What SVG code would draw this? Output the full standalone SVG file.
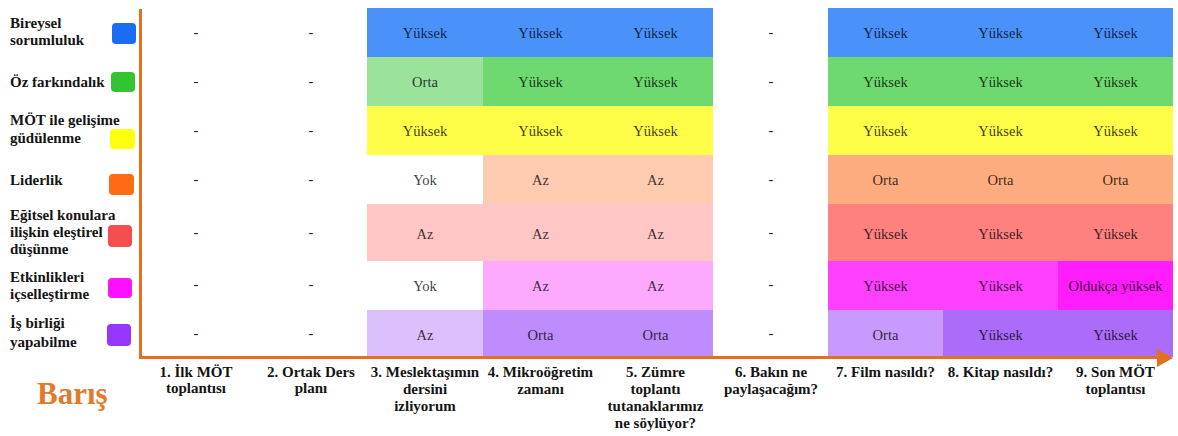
<svg xmlns="http://www.w3.org/2000/svg" width="1178" height="436" viewBox="0 0 1178 436" font-family="Liberation Serif, DejaVu Serif, serif">
  <style>
    .lbl { font-weight: bold; font-size: 15px; fill: #141414; }
    .stage { font-weight: bold; font-size: 15px; fill: #141414; text-anchor: middle; }
    .val { font-size: 14.5px; fill: #000; fill-opacity: 0.78; text-anchor: middle; }
    .dash { font-size: 14.5px; fill: #222; text-anchor: middle; }
    .axis { fill: none; stroke: #e2701e; stroke-width: 3; }
    .title { font-weight: bold; font-size: 31px; fill: #e27a2c; }
  </style>

  <rect width="1178" height="436" fill="#ffffff"/>

  <!-- Row 1: Bireysel sorumluluk -->
  <g id="row-bireysel">
    <text class="lbl" x="10" y="28">Bireysel</text>
    <text class="lbl" x="10" y="45">sorumluluk</text>
    <rect x="112" y="23" width="24" height="21" rx="4" fill="#1a6cf2"/>
    <text class="dash" x="196" y="37">-</text>
    <text class="dash" x="311" y="37">-</text>
    <rect x="367" y="8" width="346" height="49" fill="#4b91fa"/>
    <text class="val" x="425" y="38">Yüksek</text>
    <text class="val" x="540.5" y="38">Yüksek</text>
    <text class="val" x="655.5" y="38">Yüksek</text>
    <text class="dash" x="771" y="37">-</text>
    <rect x="828" y="8" width="345" height="49" fill="#4b91fa"/>
    <text class="val" x="885.5" y="38">Yüksek</text>
    <text class="val" x="1000.5" y="38">Yüksek</text>
    <text class="val" x="1115.5" y="38">Yüksek</text>
  </g>

  <!-- Row 2: Öz farkındalık -->
  <g id="row-oz">
    <text class="lbl" x="10" y="87">Öz farkındalık</text>
    <rect x="111" y="72" width="24" height="20" rx="4" fill="#33c433"/>
    <text class="dash" x="196" y="86">-</text>
    <text class="dash" x="311" y="86">-</text>
    <rect x="367" y="57" width="116" height="49" fill="#9be39a"/>
    <rect x="483" y="57" width="230" height="49" fill="#6ed96e"/>
    <text class="val" x="425" y="87">Orta</text>
    <text class="val" x="540.5" y="87">Yüksek</text>
    <text class="val" x="655.5" y="87">Yüksek</text>
    <text class="dash" x="771" y="86">-</text>
    <rect x="828" y="57" width="345" height="49" fill="#6ed96e"/>
    <text class="val" x="885.5" y="87">Yüksek</text>
    <text class="val" x="1000.5" y="87">Yüksek</text>
    <text class="val" x="1115.5" y="87">Yüksek</text>
  </g>

  <!-- Row 3: MÖT ile gelişime güdülenme -->
  <g id="row-mot">
    <text class="lbl" x="10" y="125">MÖT ile gelişime</text>
    <text class="lbl" x="10" y="143">güdülenme</text>
    <rect x="110" y="129" width="25" height="20" rx="4" fill="#ffff10"/>
    <text class="dash" x="196" y="135">-</text>
    <text class="dash" x="311" y="135">-</text>
    <rect x="367" y="106" width="346" height="49" fill="#fefd48"/>
    <text class="val" x="425" y="136">Yüksek</text>
    <text class="val" x="540.5" y="136">Yüksek</text>
    <text class="val" x="655.5" y="136">Yüksek</text>
    <text class="dash" x="771" y="135">-</text>
    <rect x="828" y="106" width="345" height="49" fill="#fefd48"/>
    <text class="val" x="885.5" y="136">Yüksek</text>
    <text class="val" x="1000.5" y="136">Yüksek</text>
    <text class="val" x="1115.5" y="136">Yüksek</text>
  </g>

  <!-- Row 4: Liderlik -->
  <g id="row-liderlik">
    <text class="lbl" x="10" y="185">Liderlik</text>
    <rect x="109" y="174" width="25" height="21" rx="4" fill="#ff6a14"/>
    <text class="dash" x="196" y="184">-</text>
    <text class="dash" x="311" y="184">-</text>
    <text class="val" x="425" y="185">Yok</text>
    <rect x="483" y="155" width="230" height="49" fill="#fdcbb0"/>
    <text class="val" x="540.5" y="185">Az</text>
    <text class="val" x="655.5" y="185">Az</text>
    <text class="dash" x="771" y="184">-</text>
    <rect x="828" y="155" width="345" height="49" fill="#fdac7f"/>
    <text class="val" x="885.5" y="185">Orta</text>
    <text class="val" x="1000.5" y="185">Orta</text>
    <text class="val" x="1115.5" y="185">Orta</text>
  </g>

  <!-- Row 5: Eğitsel konulara ilişkin eleştirel düşünme -->
  <g id="row-elestirel">
    <text class="lbl" x="10" y="220">Eğitsel konulara</text>
    <text class="lbl" x="10" y="237">ilişkin eleştirel</text>
    <text class="lbl" x="10" y="254">düşünme</text>
    <rect x="108" y="225" width="24" height="22" rx="4" fill="#f44e4f"/>
    <text class="dash" x="196" y="237">-</text>
    <text class="dash" x="311" y="237">-</text>
    <rect x="367" y="204" width="346" height="57" fill="#fec6c4"/>
    <text class="val" x="425" y="239">Az</text>
    <text class="val" x="540.5" y="239">Az</text>
    <text class="val" x="655.5" y="239">Az</text>
    <text class="dash" x="771" y="237">-</text>
    <rect x="828" y="204" width="345" height="57" fill="#fe8180"/>
    <text class="val" x="885.5" y="239">Yüksek</text>
    <text class="val" x="1000.5" y="239">Yüksek</text>
    <text class="val" x="1115.5" y="239">Yüksek</text>
  </g>

  <!-- Row 6: Etkinlikleri içselleştirme -->
  <g id="row-etkinlik">
    <text class="lbl" x="10" y="282">Etkinlikleri</text>
    <text class="lbl" x="10" y="299">içselleştirme</text>
    <rect x="108" y="278" width="24" height="20" rx="4" fill="#ff10ff"/>
    <text class="dash" x="196" y="289">-</text>
    <text class="dash" x="311" y="289">-</text>
    <text class="val" x="425" y="291">Yok</text>
    <rect x="483" y="261" width="230" height="49" fill="#fda9fd"/>
    <text class="val" x="540.5" y="291">Az</text>
    <text class="val" x="655.5" y="291">Az</text>
    <text class="dash" x="771" y="289">-</text>
    <rect x="828" y="261" width="230" height="49" fill="#ff40ff"/>
    <rect x="1058" y="261" width="115" height="49" fill="#ff1cfd"/>
    <text class="val" x="885.5" y="291">Yüksek</text>
    <text class="val" x="1000.5" y="291">Yüksek</text>
    <text class="val" x="1115.5" y="291">Oldukça yüksek</text>
  </g>

  <!-- Row 7: İş birliği yapabilme -->
  <g id="row-isbirligi">
    <text class="lbl" x="10" y="328">İş birliği</text>
    <text class="lbl" x="10" y="347">yapabilme</text>
    <rect x="107" y="324" width="24" height="22" rx="4" fill="#9636fd"/>
    <text class="dash" x="196" y="338">-</text>
    <text class="dash" x="311" y="338">-</text>
    <rect x="367" y="310" width="116" height="47" fill="#dcc0fe"/>
    <rect x="483" y="310" width="230" height="47" fill="#bf8cfd"/>
    <text class="val" x="425" y="340">Az</text>
    <text class="val" x="540.5" y="340">Orta</text>
    <text class="val" x="655.5" y="340">Orta</text>
    <text class="dash" x="771" y="338">-</text>
    <rect x="828" y="310" width="115" height="47" fill="#c89afd"/>
    <rect x="943" y="310" width="230" height="47" fill="#aa6cf9"/>
    <text class="val" x="885.5" y="340">Orta</text>
    <text class="val" x="1000.5" y="340">Yüksek</text>
    <text class="val" x="1115.5" y="340">Yüksek</text>
  </g>

  <!-- Axes -->
  <g id="connectors">
    <path class="axis" d="M140.5 9 V357.5 H1160"/>
    <polygon points="1157,349 1173,358 1157,367" fill="#e2701e"/>
  </g>

  <!-- Stage labels along the timeline -->
  <g id="stage-1"><text class="stage" x="196" y="377">1.  İlk MÖT</text><text class="stage" x="196" y="393">toplantısı</text></g>
  <g id="stage-2"><text class="stage" x="311" y="377">2. Ortak Ders</text><text class="stage" x="311" y="393">planı</text></g>
  <g id="stage-3"><text class="stage" x="425" y="377">3. Meslektaşımın</text><text class="stage" x="425" y="394">dersini</text><text class="stage" x="425" y="411">izliyorum</text></g>
  <g id="stage-4"><text class="stage" x="540.5" y="377">4. Mikroöğretim</text><text class="stage" x="540.5" y="394">zamanı</text></g>
  <g id="stage-5"><text class="stage" x="655.5" y="377">5. Zümre</text><text class="stage" x="655.5" y="394">toplantı</text><text class="stage" x="655.5" y="411">tutanaklarımız</text><text class="stage" x="655.5" y="428">ne söylüyor?</text></g>
  <g id="stage-6"><text class="stage" x="771" y="377">6. Bakın ne</text><text class="stage" x="771" y="394">paylaşacağım?</text></g>
  <g id="stage-7"><text class="stage" x="885.5" y="377">7. Film nasıldı?</text></g>
  <g id="stage-8"><text class="stage" x="1000.5" y="377">8. Kitap nasıldı?</text></g>
  <g id="stage-9"><text class="stage" x="1115.5" y="377">9. Son MÖT</text><text class="stage" x="1115.5" y="394">toplantısı</text></g>

  <!-- Person name -->
  <g id="title"><text class="title" x="37" y="404">Barış</text></g>
</svg>
